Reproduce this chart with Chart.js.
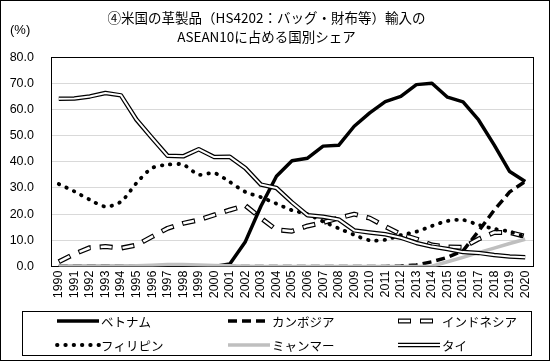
<!DOCTYPE html>
<html>
<head>
<meta charset="utf-8">
<script src="https://cdn.jsdelivr.net/npm/chart.js@4.4.0/dist/chart.umd.min.js"></script>
<style>
  html, body { margin: 0; padding: 0; background: #fff; }
</style>
</head>
<body>
<canvas id="shareChart" width="550" height="361"></canvas>
<script>
// 年（1990〜2020）
const years = ['1990','1991','1992','1993','1994','1995','1996','1997','1998','1999',
               '2000','2001','2002','2003','2004','2005','2006','2007','2008','2009',
               '2010','2011','2012','2013','2014','2015','2016','2017','2018','2019','2020'];

// 各国シェア（%）
const vietnam     = [0,0,0,0,0,0,0,0,0,0, 0,1.0,9.5,23,34.5,40.4,41.4,46,46.3,53.6,
                     58.7,63,65,69.5,70,64.7,62.9,56,46.5,36.3,32.5];
const cambodia    = [0,0,0,0,0,0,0,0,0,0, 0,0,0,0,0,0,0,0,0,0,
                     0,0,0.2,0.6,1.8,3.5,6.0,13.5,21.5,28.5,32.5];
const indonesia   = [1.8,4.8,7.2,7.6,7.0,8.2,11.4,14.6,16.5,17.8, 19.7,21.6,23.3,18.5,14.0,13.5,15.5,16.8,18.5,20,
                     18.5,15.3,12.3,10.5,8.2,7.5,7.3,10.5,13,13,11.5];
const philippines = [31.5,28.7,25.5,22.9,24.8,31.9,37.6,38.9,38.9,35.1, 35.7,32.3,28.5,26.5,24,21.5,20,17.2,14.6,12.1,
                     10,10.2,12,13.3,15.5,17.4,17.8,15.9,14.4,13.3,11.2];
const myanmar     = [0,0,0,0,0.1,0.3,0.5,0.8,0.8,0.6, 0.4,0.3,0.1,0,0,0,0,0,0,0,
                     0,0,0,0,0.1,1.8,3.5,5.3,7,8.8,10.4];
const thai        = [64.1,64.2,65.0,66.3,65.4,56.1,49.1,42.3,42.1,44.8, 41.8,41.9,37.6,31.3,30.0,24.5,19.6,19.0,18.0,13.8,
                     13.0,12.3,11.0,9.0,7.6,6.7,5.5,5.2,4.4,3.8,3.5];

const yTicks = ['0.0','10.0','20.0','30.0','40.0','50.0','60.0','70.0','80.0'];

const titleLines = ['④米国の革製品（HS4202：バッグ・財布等）輸入の', 'ASEAN10に占める国別シェア'];
const unitLabel = '(%)';

const jpFont = '"Noto Sans CJK JP", "Noto Sans", sans-serif';
const numFont = '"Liberation Sans", Arial, sans-serif';

// 線のスタイル（重ね描きで二重線を表現）
const styles = {
  vietnam:     [{ color: '#000', width: 3.5 }],
  cambodia:    [{ color: '#000', width: 3.5, dash: [9, 5] }],
  indonesia:   [{ color: '#000', width: 5, dash: [13, 9] }, { color: '#fff', width: 2.5, dash: [11, 11], offset: -1 }],
  philippines: [{ color: '#000', width: 3.8, dash: [0.5, 7.8], cap: 'round' }],
  myanmar:     [{ color: '#bfbfbf', width: 3.5 }],
  thai:        [{ color: '#000', width: 4.5 }, { color: '#fff', width: 2 }]
};

// 凡例（行ごと）
const legendItems = [
  { name: 'ベトナム', style: styles.vietnam },
  { name: 'カンボジア', style: styles.cambodia },
  { name: 'インドネシア', style: styles.indonesia },
  { name: 'フィリピン', style: styles.philippines },
  { name: 'ミャンマー', style: styles.myanmar },
  { name: 'タイ', style: styles.thai }
];

// 描画順: order が小さいほど上に描かれる
function makeDatasets(label, data, style, baseOrder, tension) {
  return style.map((s, i) => ({
    label: label,
    data: data,
    borderColor: s.color,
    borderWidth: s.width,
    borderDash: s.dash || [],
    borderDashOffset: s.offset || 0,
    borderCapStyle: s.cap || 'butt',
    borderJoinStyle: 'round',
    pointRadius: 0,
    fill: false,
    tension: tension || 0,
    order: baseOrder - i
  }));
}

const datasets = [].concat(
  makeDatasets('ベトナム', vietnam, styles.vietnam, 20),
  makeDatasets('カンボジア', cambodia, styles.cambodia, 18),
  makeDatasets('インドネシア', indonesia, styles.indonesia, 16),
  makeDatasets('フィリピン', philippines, styles.philippines, 12, 0.3),
  makeDatasets('ミャンマー', myanmar, styles.myanmar, 10),
  makeDatasets('タイ', thai, styles.thai, 8)
);

function strokeSample(ctx, style, x1, x2, y) {
  style.forEach(s => {
    ctx.save();
    ctx.beginPath();
    ctx.strokeStyle = s.color;
    ctx.lineWidth = s.width;
    ctx.setLineDash(s.dash || []);
    ctx.lineDashOffset = s.offset || 0;
    ctx.lineCap = s.cap || 'butt';
    ctx.moveTo(x1, y);
    ctx.lineTo(x2, y);
    ctx.stroke();
    ctx.restore();
  });
}

const framePlugin = {
  id: 'frame',
  beforeDatasetsDraw(chart) {
    const a = chart.chartArea;
    const ctx = chart.ctx;
    ctx.save();
    ctx.strokeStyle = '#000';
    ctx.lineWidth = 1;
    ctx.strokeRect(Math.round(a.left) + 0.5, Math.round(a.top) + 0.5,
                   Math.round(a.right - a.left), Math.round(a.bottom - a.top));
    ctx.restore();
  },
  afterDraw(chart) {
    const ctx = chart.ctx;
    ctx.save();
    // 外枠
    ctx.strokeStyle = '#000';
    ctx.lineWidth = 1;
    ctx.strokeRect(0.5, 0.5, chart.width - 1, chart.height - 1);

    // 単位
    ctx.fillStyle = '#000';
    ctx.font = '13px ' + numFont;
    ctx.textBaseline = 'middle';
    ctx.textAlign = 'left';
    ctx.fillText(unitLabel, 10, 30);

    // 凡例
    ctx.strokeRect(22.5, 311.5, 509, 44);
    const colX = [57, 228, 398];
    const rowY = [321, 345];
    ctx.font = '12.5px ' + jpFont;
    legendItems.forEach((item, i) => {
      const x = colX[i % 3];
      const y = rowY[Math.floor(i / 3)];
      strokeSample(ctx, item.style, x, x + 42, y);
      ctx.fillStyle = '#000';
      ctx.fillText(item.name, x + 44, y + 1);
    });
    ctx.restore();
  }
};

const ctx = document.getElementById('shareChart').getContext('2d');
const shareChart = new Chart(ctx, {
  type: 'line',
  data: { labels: years, datasets: datasets },
  options: {
    responsive: false,
    animation: false,
    devicePixelRatio: 1,
    layout: { padding: { left: 0, right: 17, top: 0, bottom: 0 } },
    plugins: {
      legend: { display: false },
      tooltip: { enabled: false },
      title: {
        display: true,
        text: titleLines,
        color: '#000',
        font: { family: jpFont, size: 13.5, weight: 'normal', lineHeight: 1.45 },
        padding: { top: 8, bottom: 10 }
      }
    },
    scales: {
      x: {
        offset: true,
        grid: { display: false, drawTicks: false },
        border: { display: false },
        ticks: {
          autoSkip: false, maxRotation: 90, minRotation: 90, padding: 4,
          color: '#000', font: { family: numFont, size: 12.5 }
        },
        afterFit(scale) { scale.height = 94.5; }
      },
      y: {
        min: 0, max: 80,
        grid: { color: '#d9d9d9', lineWidth: 1, drawTicks: false },
        border: { display: false },
        ticks: {
          stepSize: 10, padding: 17, color: '#000',
          font: { family: numFont, size: 12.5 },
          callback: (v) => yTicks[Math.round(v / 10)]
        },
        afterFit(scale) { scale.width = 51; }
      }
    }
  },
  plugins: [framePlugin]
});
</script>
</body>
</html>
